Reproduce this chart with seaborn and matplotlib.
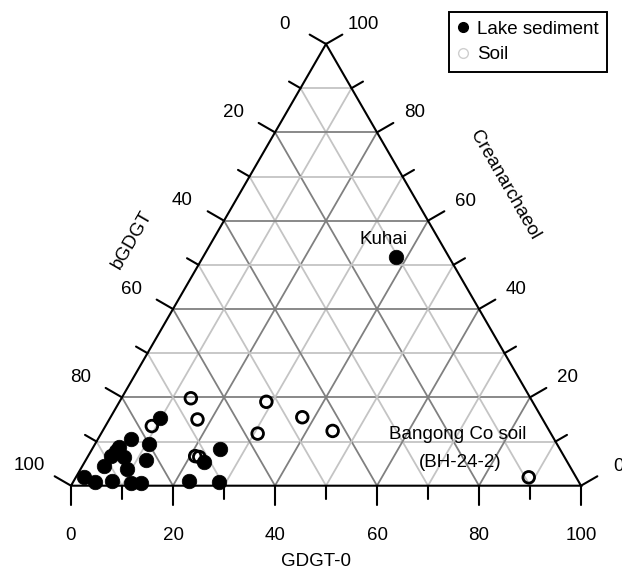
import numpy as np
import pandas as pd
import matplotlib
matplotlib.use("Agg")
import matplotlib.pyplot as plt
import seaborn as sns
from matplotlib.lines import Line2D

sns.set_theme(style="white")
plt.rcParams['font.family'] = ['Liberation Sans', 'DejaVu Sans']
plt.rcParams['text.color'] = 'black'

# Relative abundances (%) of GDGT-0, branched GDGTs and crenarchaeol
lake_gdgt0 = [9.8, 6.5, 10.5, 5.0, 4.9, 4.4, 7.2, 11.8, 4.2, 9.1, 1.6, 4.4, 7.5, 11.5, 13.4, 22.6, 28.6, 25.0, 23.4, 37.9]
lake_bgdgt = [74.9, 83.0, 80.1, 86.2, 87.3, 88.8, 86.4, 82.4, 91.3, 87.1, 96.4, 94.8, 91.4, 88.0, 86.1, 76.3, 70.5, 66.6, 71.2, 10.4]
lake_cren = [15.3, 10.5, 9.4, 8.8, 7.8, 6.8, 6.4, 5.8, 4.5, 3.8, 2.0, 0.8, 1.1, 0.5, 0.5, 1.1, 0.9, 8.4, 5.4, 51.7]

soil_gdgt0 = [13.6, 17.3, 9.1, 21.0, 21.9, 28.8, 37.6, 45.1, 30.7, 88.8]
soil_bgdgt = [66.6, 67.7, 77.4, 72.3, 71.6, 52.2, 46.9, 42.5, 57.5, 9.3]
soil_cren = [19.8, 15.0, 13.5, 6.7, 6.5, 19.0, 15.5, 12.4, 11.8, 1.9]

tick_values = list(range(0, 101, 10))

SQ = np.sqrt(3) / 2
FS = 13.5


def to_xy(g0, cren):
    """Ternary (GDGT-0, crenarchaeol) -> Cartesian, side length 100."""
    g0 = np.asarray(g0, float)
    cren = np.asarray(cren, float)
    return g0 + cren / 2, cren * SQ


lake = pd.DataFrame({"GDGT-0": lake_gdgt0, "bGDGT": lake_bgdgt, "Crenarchaeol": lake_cren})
soil = pd.DataFrame({"GDGT-0": soil_gdgt0, "bGDGT": soil_bgdgt, "Crenarchaeol": soil_cren})
for df in (lake, soil):
    df["x"], df["y"] = to_xy(df["GDGT-0"], df["Crenarchaeol"])

fig = plt.figure(figsize=(6.22, 5.72), dpi=100)
ax = fig.add_axes([0, 0, 1, 1])
s = 5.1  # pixels per ternary unit
ax.set_xlim(-71 / s, (622 - 71) / s)
ax.set_ylim(-(572 - 485.7) / s, 485.7 / s)
ax.axis("off")

dark = "#808080"
light = "#c4c4c4"

# grid lines
for v in range(10, 100, 10):
    col = dark if v % 20 == 0 else light
    segs = [
        ((0, v), (100 - v, v)),            # constant crenarchaeol
        ((v, 0), (v, 100 - v)),            # constant GDGT-0
        ((100 - v, 0), (0, 100 - v)),      # constant bGDGT
    ]
    for (g1, c1), (g2, c2) in segs:
        xs, ys = to_xy([g1, g2], [c1, c2])
        ax.plot(xs, ys, color=col, lw=1.3, zorder=1, solid_capstyle="butt")

# triangle outline
xs, ys = to_xy([0, 100, 0, 0], [0, 0, 100, 0])
ax.plot(xs, ys, color="black", lw=1.5, zorder=2, solid_joinstyle="miter")

maj_len, min_len = 3.7, 2.6
c150 = np.array([-SQ, 0.5])
c30 = np.array([SQ, 0.5])
for v in tick_values:
    L = maj_len if v % 20 == 0 else min_len
    # bottom axis: GDGT-0
    x0, y0 = to_xy(v, 0)
    ax.plot([x0, x0], [y0, y0 - L], color="black", lw=1.5, zorder=2)
    # left axis: bGDGT
    xl, yl = to_xy(0, 100 - v)
    ax.plot([xl, xl + c150[0] * L], [yl, yl + c150[1] * L], color="black", lw=1.5, zorder=2)
    # right axis: crenarchaeol
    xr, yr = to_xy(100 - v, v)
    ax.plot([xr, xr + c30[0] * L], [yr, yr + c30[1] * L], color="black", lw=1.5, zorder=2)
    if v % 20 == 0:
        lab = str(v)
        ax.text(x0, y0 - 9.7, lab, ha="center", va="center", fontsize=FS)
        ax.text(xl - 8.2, yl + 3.9, lab, ha="center", va="center", fontsize=FS)
        ax.text(xr + 7.3, yr + 3.8, lab, ha="center", va="center", fontsize=FS, clip_on=False)

# axis titles
ax.text(48.0, -14.8, "GDGT-0", ha="center", va="center", fontsize=FS)
ax.text(12.0, 48.2, "bGDGT", ha="center", va="center", fontsize=FS, rotation=60)
ax.text(85.1, 59.0, "Creanarchaeol", ha="center", va="center", fontsize=FS, rotation=-60)

# samples
sns.scatterplot(data=lake, x="x", y="y", ax=ax, color="black", s=110,
                edgecolor="black", linewidth=0.5, zorder=4, legend=False)
sns.scatterplot(data=soil, x="x", y="y", ax=ax, s=70, facecolor="none",
                edgecolor="black", linewidth=2.0, zorder=5, legend=False)

ax.text(61.2, 48.3, "Kuhai", ha="center", va="center", fontsize=FS)
ax.text(75.9, 10.0, "Bangong Co soil", ha="center", va="center", fontsize=FS)
ax.text(76.3, 4.6, "(BH-24-2)", ha="center", va="center", fontsize=FS)

handles = [
    Line2D([], [], marker="o", ls="none", color="black", markersize=7, label="Lake sediment"),
    Line2D([], [], marker="o", ls="none", markerfacecolor="white", markeredgecolor="#cfcfcf",
           markersize=7, markeredgewidth=1.0, label="Soil"),
]
leg = ax.legend(handles=handles, loc="upper right", bbox_to_anchor=(607 / 622, 1 - 12 / 572),
                bbox_transform=fig.transFigure, borderaxespad=0, fontsize=FS, frameon=True,
                fancybox=False, framealpha=1, handlelength=0.6, handletextpad=0.45,
                labelspacing=0.45, borderpad=0.45, labelcolor="black")
leg.get_frame().set_edgecolor("black")
leg.get_frame().set_linewidth(1.4)

fig.savefig("out.png", dpi=100)
